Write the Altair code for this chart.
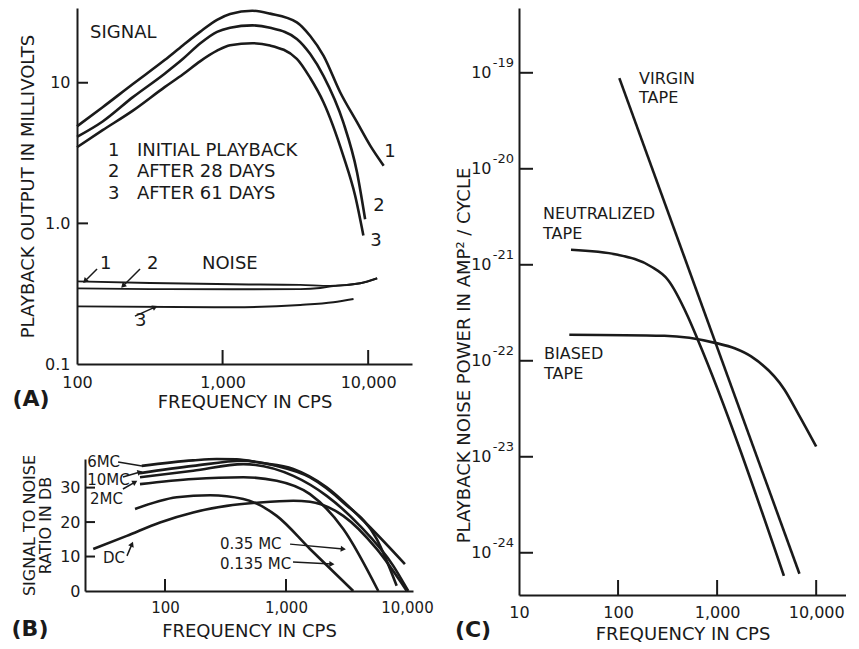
import math
import altair as alt
import pandas as pd

FONT = "DejaVu Sans"
INK = "#1a1a1a"

# ---------------- Panel A: playback output (mV) vs frequency ----------------
a_sig1_f = [100, 150, 242, 400, 535, 700, 916, 1126, 1600, 2120, 3236, 4000, 4930, 6420, 8380, 10330, 12780]
a_sig1_v = [4.9, 6.7, 9.8, 14.5, 18.5, 23.0, 28.0, 30.8, 32.5, 31.0, 26.9, 21.5, 15.6, 8.56, 5.24, 3.57, 2.57]
a_sig2_f = [100, 150, 242, 400, 535, 700, 916, 1126, 1600, 2120, 3236, 4000, 4930, 6740, 8380, 9530]
a_sig2_v = [4.12, 5.3, 7.9, 11.6, 14.8, 19.0, 23.0, 24.6, 25.6, 24.6, 20.5, 16.0, 11.2, 5.24, 2.31, 1.07]
a_sig3_f = [100, 150, 242, 400, 535, 700, 916, 1126, 1600, 2120, 3236, 4000, 4930, 6740, 8140, 9270]
a_sig3_v = [3.48, 4.6, 6.33, 9.3, 11.5, 14.2, 16.9, 18.5, 19.1, 18.4, 14.8, 10.8, 7.27, 3.03, 1.57, 0.82]
a_noise1_f = [100, 317, 1181, 3418, 5480, 8810, 11530]
a_noise1_v = [0.387, 0.377, 0.369, 0.365, 0.359, 0.375, 0.407]
a_noise2_f = [100, 317, 1181, 3418, 4677, 5770, 8810, 11530]
a_noise2_v = [0.345, 0.341, 0.340, 0.341, 0.347, 0.358, 0.375, 0.407]
a_noise3_f = [100, 1181, 3418, 5770, 7930]
a_noise3_v = [0.257, 0.253, 0.263, 0.275, 0.290]
a_xticks = [100, 1000, 10000]
a_yticks = [0.1, 1, 10]
a_text = ["SIGNAL", "NOISE", "1", "2", "3", "INITIAL PLAYBACK", "AFTER 28 DAYS", "AFTER 61 DAYS",
          "1", "2", "3", "1", "2", "3"]
a_text_f = [122.8, 722, 163, 163, 163, 258, 258, 258, 12880, 10830, 10320, 143.9, 302, 250]
a_text_v = [22.6, 0.514, 3.27, 2.32, 1.62, 3.27, 2.32, 1.62, 3.22, 1.33, 0.75, 0.514, 0.514, 0.202]
a_lead_f = [137.3, 271, 250]
a_lead_v = [0.474, 0.474, 0.219]
a_lead_f2 = [113.5, 207, 343.6]
a_lead_v2 = [0.389, 0.359, 0.254]
a_lead_head = [True, True, True]

# ---------------- Panel B: signal-to-noise ratio (dB) ----------------
b_names = ["6MC", "10MC", "2MC", "0.35MC", "0.135MC", "DC"]
b_f = [
    [64.2, 171, 267, 391, 610, 1149, 2170, 4090, 9620],
    [62.1, 171, 444, 838, 1579, 2976, 5620, 8220],
    [62.1, 171, 444, 1149, 2170, 4090, 7710, 10250],
    [62.1, 171, 444, 838, 1579, 2976, 5795],
    [56.5, 125, 236, 444, 838, 1579, 3598],
    [25.5, 48.3, 90.9, 171, 324, 610, 1149, 1579, 2976, 5620, 9940],
]
b_db = [
    [36.3, 37.9, 38.3, 38.2, 37.2, 35.4, 30.1, 21.4, 7.8],
    [34.2, 36.3, 37.8, 36.3, 33.0, 25.7, 15.1, 1.5],
    [33.0, 34.9, 36.8, 33.4, 27.6, 18.9, 7.3, 0.0],
    [31.0, 32.5, 33.0, 32.0, 28.1, 18.0, 0.0],
    [23.8, 27.2, 27.8, 26.7, 21.8, 12.2, 0.0],
    [12.2, 16.0, 19.9, 22.8, 24.7, 25.7, 26.2, 25.9, 21.8, 12.2, 0.1],
]
b_xticks = [100, 1000, 10000]
b_yticks = [0, 10, 20, 30]
b_text = ["6MC", "10MC", "2MC", "DC", "0.35 MC", "0.135 MC"]
b_text_f = [22.7, 22.7, 24.0, 30.7, 284.7, 284.7]
b_text_db = [37.4, 32.2, 26.7, 9.6, 13.6, 7.8]
b_lead_f = [40.9, 44.9, 44.9, 48.5, 1081, 1143]
b_lead_db = [37.4, 33.1, 29.6, 10.2, 13.6, 8.4]
b_lead_f2 = [64.5, 62.2, 56.5, 53.3, 2976, 2396]
b_lead_db2 = [36.3, 34.5, 31.6, 13.6, 12.2, 7.8]
b_lead_head = [False, True, True, True, True, True]

# ---------------- Panel C: playback noise power ----------------
c_names = ["VIRGIN", "NEUTRALIZED", "BIASED"]
c_f = [
    [103, 6776],
    [33.5, 99.3, 215, 318, 506, 638, 4720],
    [32.2, 294, 977, 1500, 2203, 4790, 6530, 10000],
]
c_logp = [
    [-19.055, -24.219],
    [-20.844, -20.896, -21.018, -21.156, -21.538, -21.78, -24.24],
    [-21.729, -21.74, -21.816, -21.87, -21.955, -22.302, -22.545, -22.893],
]
c_xticks = [10, 100, 1000, 10000]
c_yexp = [-19, -20, -21, -22, -23, -24]
c_text = ["VIRGIN", "TAPE", "NEUTRALIZED", "TAPE", "BIASED", "TAPE"]
c_text_f = [163, 163, 17.5, 17.5, 17.9, 17.9]
c_text_logp = [-19.065, -19.265, -20.475, -20.68, -21.93, -22.14]


def long_table(names, xs, ys):
    rows = []
    for n, xl, yl in zip(names, xs, ys):
        for i, (x, y) in enumerate(zip(xl, yl)):
            rows.append({"s": n, "i": i, "x": x, "y": y})
    return pd.DataFrame(rows)


def line(df, X, Y, width, interp="monotone"):
    return alt.Chart(df).mark_line(color=INK, strokeWidth=width, interpolate=interp).encode(
        x=X, y=Y, detail="s:N", order="i:Q")


def texts(df, X, Y, size, align="left"):
    return alt.Chart(df).mark_text(align=align, baseline="middle", font=FONT, fontSize=size,
                                   color=INK).encode(x=X, y=Y, text="t:N")


def to_px(v, dom, length, log=True, flip=False):
    if log:
        r = math.log10(v / dom[0]) / math.log10(dom[1] / dom[0])
    else:
        r = (v - dom[0]) / (dom[1] - dom[0])
    return length * (1 - r) if flip else length * r


def leaders(df, X, Y, xdom, ydom, W, H, ylog=True):
    # arrowhead direction is computed in screen space (styling only)
    angs = []
    for _, r in df.iterrows():
        dx = to_px(r.x2, xdom, W) - to_px(r.x, xdom, W)
        dy = to_px(r.y2, ydom, H, ylog, True) - to_px(r.y, ydom, H, ylog, True)
        angs.append(math.degrees(math.atan2(dx, -dy)) % 360)
    sel = df["head_"].tolist()
    heads = pd.DataFrame({"x": [v for v, k in zip(df.x2, sel) if k],
                          "y": [v for v, k in zip(df.y2, sel) if k],
                          "ang": [a for a, k in zip(angs, sel) if k]})
    rules = alt.Chart(df.drop(columns=["head_"])).mark_rule(color=INK, strokeWidth=1.5).encode(
        x=X, y=Y, x2="x2:Q", y2="y2:Q")
    tips = alt.Chart(heads).mark_point(shape="triangle-up", filled=True, size=36, color=INK,
                                       opacity=1).encode(
        x=X, y=Y, angle=alt.Angle("ang:Q", scale=None))
    return [rules, tips]


def panel_label(t, px, py):
    return alt.Chart(pd.DataFrame({"t": [t]})).mark_text(
        font=FONT, fontSize=22, fontWeight="bold", color=INK, align="center", baseline="middle"
    ).encode(x=alt.value(px), y=alt.value(py), text="t:N")


def top_guard():
    # invisible marker so that both columns reserve the same room above their plots
    return alt.Chart(pd.DataFrame({"t": [""]})).mark_rule(opacity=0).encode(
        x=alt.value(0), x2=alt.value(1), y=alt.value(-20), y2=alt.value(-19))


# ---------------- build panel A ----------------
WA, HA = 335, 356
domAx, domAy = [100, 20000], [0.1, 34]
xA = alt.X("x:Q", scale=alt.Scale(type="log", domain=domAx),
           axis=alt.Axis(values=a_xticks, labelExpr="format(datum.value, ',')", labelFlush=False,
                         title="FREQUENCY IN CPS", labelPadding=10, titlePadding=3))
yA = alt.Y("y:Q", scale=alt.Scale(type="log", domain=domAy),
           axis=alt.Axis(values=a_yticks, labelFlush=False,
                         labelExpr="datum.value < 0.5 ? '0.1' : datum.value < 5 ? '1.0' : '10'",
                         title="PLAYBACK OUTPUT IN MILLIVOLTS", labelPadding=7,
                         titleX=-49, titleY=HA / 2, titleBaseline="middle"))
sigA = long_table(["1", "2", "3"], [a_sig1_f, a_sig2_f, a_sig3_f], [a_sig1_v, a_sig2_v, a_sig3_v])
noiA = long_table(["1", "2", "3"], [a_noise1_f, a_noise2_f, a_noise3_f],
                  [a_noise1_v, a_noise2_v, a_noise3_v])
txtA = pd.DataFrame({"x": a_text_f, "y": a_text_v, "t": a_text})
ledA = pd.DataFrame({"x": a_lead_f, "y": a_lead_v, "x2": a_lead_f2, "y2": a_lead_v2,
                     "head_": a_lead_head})
tickAx = pd.DataFrame({"x": a_xticks[1:]})
tickAy = pd.DataFrame({"y": a_yticks[1:]})

panelA = alt.layer(
    line(sigA, xA, yA, 2.6),
    line(noiA, xA, yA, 1.9),
    alt.Chart(tickAx).mark_rule(color=INK, strokeWidth=2).encode(
        x=xA, y=alt.value(HA), y2=alt.value(HA - 14)),
    alt.Chart(tickAy).mark_rule(color=INK, strokeWidth=2).encode(
        y=yA, x=alt.value(0), x2=alt.value(11)),
    texts(txtA, xA, yA, 18),
    *leaders(ledA, xA, yA, domAx, domAy, WA, HA),
    panel_label("(A)", -46, 391),
    top_guard(),
).properties(width=WA, height=HA)

# ---------------- build panel B ----------------
WB, HB = 328, 132
domBx, domBy = [21.8, 11220], [0, 38.3]
xB = alt.X("x:Q", scale=alt.Scale(type="log", domain=domBx),
           axis=alt.Axis(values=b_xticks, labelExpr="format(datum.value, ',')", labelFlush=False,
                         title="FREQUENCY IN CPS", labelPadding=9, titlePadding=7,
                         labelFontSize=15))
yB = alt.Y("y:Q", scale=alt.Scale(domain=domBy),
           axis=alt.Axis(values=b_yticks, title=["SIGNAL TO NOISE", "RATIO IN DB"],
                         labelFlush=False,
                         labelPadding=5, titleX=-56, titleY=HB / 2, titleBaseline="middle",
                         titleFontSize=16, titleLineHeight=16))
curB = long_table(b_names, b_f, b_db)
txtB = pd.DataFrame({"x": b_text_f, "y": b_text_db, "t": b_text})
ledB = pd.DataFrame({"x": b_lead_f, "y": b_lead_db, "x2": b_lead_f2, "y2": b_lead_db2,
                     "head_": b_lead_head})
tickBx = pd.DataFrame({"x": b_xticks[:2]})
tickBy = pd.DataFrame({"y": b_yticks[1:]})

panelB = alt.layer(
    line(curB, xB, yB, 2.6),
    alt.Chart(tickBx).mark_rule(color=INK, strokeWidth=2).encode(
        x=xB, y=alt.value(HB), y2=alt.value(HB - 12)),
    alt.Chart(tickBy).mark_rule(color=INK, strokeWidth=2).encode(
        y=yB, x=alt.value(0), x2=alt.value(10)),
    texts(txtB, xB, yB, 15),
    *leaders(ledB, xB, yB, domBx, domBy, WB, HB, ylog=False),
    panel_label("(B)", -55, 170),
).properties(width=WB, height=HB)

spacer = alt.Chart(pd.DataFrame({"v": [0]})).mark_point(opacity=0).encode(
    x=alt.value(0), y=alt.value(0)).properties(width=8, height=HB)

# ---------------- build panel C ----------------
WC, HC = 327, 587
xC = alt.X("x:Q", scale=alt.Scale(type="log", domain=[10, 20000]),
           axis=alt.Axis(values=c_xticks, labelExpr="format(datum.value, ',')", labelFlush=False,
                         title="FREQUENCY IN CPS", labelPadding=9, titlePadding=5))
yC = alt.Y("y:Q", scale=alt.Scale(type="log", domain=[10 ** -24.44, 10 ** -18.325]),
           axis=alt.Axis(values=[10.0 ** e for e in c_yexp], labelExpr="'10'", labelFlush=False,
                         title="PLAYBACK NOISE POWER IN AMP\u00b2 / CYCLE", labelPadding=28,
                         titleX=-55, titleY=347, titleBaseline="middle"))
curC = long_table(c_names, c_f, [[10.0 ** v for v in l] for l in c_logp])
txtC = pd.DataFrame({"x": c_text_f, "y": [10.0 ** v for v in c_text_logp], "t": c_text})
expC = pd.DataFrame({"y": [10.0 ** e for e in c_yexp], "t": [str(e) for e in c_yexp]})
tickCx = pd.DataFrame({"x": c_xticks[1:]})
tickCy = pd.DataFrame({"y": [10.0 ** e for e in c_yexp]})

panelC = alt.layer(
    line(curC, xC, yC, 2.6),
    alt.Chart(tickCx).mark_rule(color=INK, strokeWidth=2).encode(
        x=xC, y=alt.value(HC), y2=alt.value(HC - 15)),
    alt.Chart(tickCy).mark_rule(color=INK, strokeWidth=2).encode(
        y=yC, x=alt.value(0), x2=alt.value(14)),
    texts(txtC, xC, yC, 16),
    alt.Chart(expC).mark_text(align="right", baseline="middle", font=FONT, fontSize=13,
                              color=INK, dy=-10).encode(y=yC, x=alt.value(-5), text="t:N"),
    panel_label("(C)", -46, 622),
    top_guard(),
).properties(width=WC, height=HC)

left = alt.vconcat(panelA, alt.hconcat(spacer, panelB, spacing=0, bounds="flush"),
                   spacing=95, bounds="flush")
chart = alt.hconcat(left, panelC, spacing=20, bounds="full").properties(
    padding={"left": 3, "top": -20, "right": 0, "bottom": 0},
    background="white",
).configure_view(stroke=None).configure_axis(
    domainColor=INK, domainWidth=2, labelFont=FONT, labelFontSize=16, labelColor=INK,
    titleFont=FONT, titleFontSize=18, titleFontWeight="normal", titleColor=INK,
    grid=False, ticks=False
)

chart.save("out.html", embed_options={"renderer": "svg", "actions": False})
